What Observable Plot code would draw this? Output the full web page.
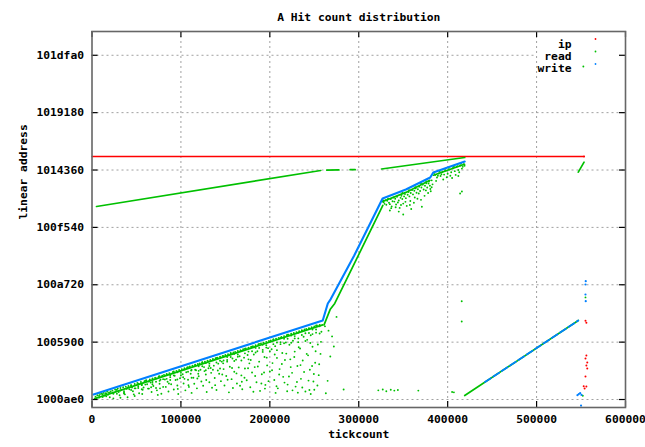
<!DOCTYPE html>
<html><head><meta charset="utf-8">
<script src="https://cdn.jsdelivr.net/npm/d3@7"></script>
<script src="https://cdn.jsdelivr.net/npm/@observablehq/plot@0.6"></script>
<style>body{margin:0;background:#fff}</style>
</head><body><div id="chart"></div>
<script>
const title = "A Hit count distribution";
const xLabel = "tickcount";
const yLabel = "linear address";
const seriesNames = ["ip", "read", "write"];
const seriesColors = ["#ff0000", "#00c000", "#0080ff"];
const xTicks = [0, 100000, 200000, 300000, 400000, 500000, 600000];
const xTickLabels = ["0", "100000", "200000", "300000", "400000", "500000", "600000"];
const yTicks = [16780000, 16800000, 16820000, 16840000, 16860000, 16880000, 16900000];
const yTickLabels = ["1000ae0", "1005900", "100a720", "100f540", "1014360", "1019180", "101dfa0"];
const xDomain = [0, 600000];
const yDomain = [16777216, 16908288];

// ip (red)
const ipSegments = [[[0, 16864715], [553400, 16864715]]];
const ipPoints = [[553400, 16864715], [555000, 16807500], [556000, 16806800], [556000, 16795300], [555000, 16794300],
  [557000, 16792900], [556000, 16791900], [557000, 16790800], [555000, 16788000], [556000, 16784500],
  [554000, 16783800], [553000, 16784600]];

// read (green)
const readSegments = [
  [[5100, 16847285], [257200, 16859834]],
  [[264000, 16859974], [277700, 16860043]],
  [[290300, 16860113], [296000, 16860113]],
  [[325600, 16860357], [419200, 16864366]],
  [[3000, 16780300], [259500, 16806000]],
  [[261000, 16806000], [268000, 16811500], [273000, 16813500], [297900, 16829200], [327100, 16847633]],
  [[327000, 16849000], [353000, 16852200], [380000, 16856400]],
  [[384000, 16858200], [419000, 16862000]],
  [[419200, 16781399], [546900, 16807544]],
  [[546900, 16859242], [553400, 16862728]]
];
const readPoints = [
  [6000,16781500],[9000,16781900],[11000,16782000],[13000,16782300],[15000,16782200],[17000,16782700],[19000,16782500],[14000,16781400],[18000,16781700],
  [21000,16782800],[23000,16783100],[24000,16782300],[26000,16783500],[27000,16782900],[29000,16783800],[30000,16782600],[32000,16784000],[33000,16783300],[35000,16784300],[36000,16782400],[38000,16784500],[39000,16783700],[37000,16781800],[31000,16781500],
  [41000,16784700],[42000,16783600],[44000,16785000],[45000,16784200],[46000,16782900],[48000,16785400],[49000,16783900],[51000,16785800],[52000,16784600],[53000,16782200],[55000,16786100],[56000,16785000],[57000,16783400],[59000,16786400],[58000,16784200],[47000,16781800],
  [61000,16786700],[62000,16785300],[63000,16783800],[65000,16787000],[66000,16785900],[67000,16782600],[68000,16787300],[69000,16784700],[71000,16787600],[72000,16786200],[73000,16783200],[75000,16788000],[76000,16785500],[77000,16786900],[78000,16782000],[79000,16788300],[74000,16781600],
  [81000,16788600],[82000,16787000],[83000,16784400],[84000,16788900],[85000,16786200],[86000,16782800],[87000,16789200],[88000,16787800],[89000,16785300],[91000,16789600],[92000,16783500],[93000,16788300],[94000,16786800],[95000,16790000],[96000,16784900],[97000,16781900],[98000,16790300],[99000,16787400],
  [101000,16790600],[102000,16788800],[103000,16785600],[104000,16790900],[105000,16783200],[106000,16789500],[107000,16791200],[108000,16786900],[109000,16784400],[110000,16791500],[111000,16789000],[112000,16782300],[113000,16791800],[114000,16787600],[115000,16785500],[116000,16792100],[117000,16790200],[118000,16783900],[119000,16792400],[120000,16788100],
  [121000,16792600],[122000,16790400],[123000,16786300],[124000,16792900],[125000,16784800],[126000,16791300],[127000,16793200],[128000,16788700],[129000,16782600],[130000,16793500],[131000,16790900],[132000,16786000],[133000,16793800],[134000,16789300],[135000,16784100],[136000,16794100],[137000,16791800],[138000,16787500],[139000,16794400],[140000,16783300],
  [141000,16794600],[142000,16792500],[143000,16789000],[144000,16794900],[145000,16786400],[146000,16793200],[147000,16795200],[148000,16790600],[149000,16784900],[150000,16795500],[151000,16788200],[152000,16793800],[153000,16795800],[154000,16782500],[155000,16791400],[156000,16796100],[157000,16787100],[158000,16794300],[159000,16796400],[160000,16789700],
  [161000,16796600],[162000,16793900],[163000,16785600],[164000,16796900],[165000,16791200],[166000,16795100],[167000,16797200],[168000,16788400],[169000,16783600],[170000,16797500],[171000,16794600],[172000,16790800],[173000,16797800],[174000,16786700],[175000,16795500],[176000,16798100],[177000,16792600],[178000,16784300],[179000,16798400],[180000,16789400],
  [181000,16798600],[182000,16795700],[183000,16791300],[184000,16798900],[185000,16786000],[186000,16796800],[187000,16799200],[188000,16793200],[189000,16783000],[190000,16799500],[191000,16788800],[192000,16797300],[193000,16799800],[194000,16794800],[195000,16785100],[196000,16800100],[197000,16791900],[198000,16797900],[199000,16800400],[200000,16789800],
  [201000,16800600],[202000,16797500],[203000,16792700],[204000,16800900],[205000,16786800],[206000,16798600],[207000,16801200],[208000,16794500],[209000,16783900],[210000,16801500],[211000,16790600],[212000,16799300],[213000,16801800],[214000,16796200],[215000,16787900],[216000,16802100],[217000,16793800],[218000,16799900],[219000,16802400],[220000,16785200],
  [221000,16802600],[222000,16799100],[223000,16794000],[224000,16802900],[225000,16789300],[226000,16800500],[227000,16803200],[228000,16796700],[229000,16784500],[230000,16803500],[231000,16791700],[232000,16801300],[233000,16803800],[234000,16797800],[235000,16787200],[236000,16804100],[237000,16793600],[238000,16801900],[239000,16804400],[240000,16782800],
  [241000,16804600],[242000,16800800],[243000,16795400],[244000,16804900],[245000,16790400],[246000,16802400],[247000,16805200],[248000,16798400],[249000,16786300],[250000,16805500],[251000,16792800],[252000,16803300],[253000,16805800],[254000,16799200],[255000,16788500],[256000,16806000],[257000,16795900],[258000,16803600],[250000,16783400],[246000,16781900],
  [4000,16781000],[4000,16780200],[8000,16781400],[8000,16780700],[12000,16781800],[12000,16780900],[16000,16782000],[16000,16781100],
  [20000,16782300],[20000,16780800],[24000,16782000],[24000,16780400],[28000,16783400],[28000,16782000],[32000,16783100],[32000,16780600],
  [36000,16782900],[36000,16782100],[40000,16784100],[40000,16780800],[44000,16784900],[44000,16783300],[48000,16783900],[48000,16781200],
  [52000,16785500],[52000,16784000],[56000,16785200],[56000,16783600],[60000,16786600],[60000,16785200],[64000,16786300],[64000,16783800],
  [68000,16786100],[68000,16785300],[72000,16787300],[72000,16784000],[76000,16788100],[76000,16786500],[80000,16787100],[80000,16784400],
  [84000,16788700],[84000,16787200],[88000,16788400],[88000,16786800],[92000,16789800],[92000,16788400],[96000,16789500],[96000,16787000],
  [100000,16789300],[100000,16788500],[104000,16790500],[104000,16787200],[108000,16791300],[108000,16789700],[112000,16790300],[112000,16787600],
  [116000,16791900],[116000,16790400],[120000,16791600],[120000,16790000],[124000,16793000],[124000,16791600],[128000,16792700],[128000,16790200],
  [132000,16792500],[132000,16791700],[136000,16793700],[136000,16790400],[140000,16794500],[140000,16792900],[144000,16793500],[144000,16790800],
  [148000,16795100],[148000,16793600],[152000,16794800],[152000,16793200],[156000,16796200],[156000,16794800],[160000,16795900],[160000,16793400],
  [164000,16795700],[164000,16794900],[168000,16796900],[168000,16793600],[172000,16797700],[172000,16796100],[176000,16796700],[176000,16794000],
  [180000,16798300],[180000,16796800],[184000,16798000],[184000,16796400],[188000,16799400],[188000,16798000],[192000,16799100],[192000,16796600],
  [196000,16798900],[196000,16798100],[200000,16800100],[200000,16796800],[204000,16800900],[204000,16799300],[208000,16799900],[208000,16797200],
  [212000,16801500],[212000,16800000],[216000,16801200],[216000,16799600],[220000,16802600],[220000,16801200],[224000,16802300],[224000,16799800],
  [228000,16802100],[228000,16801300],[232000,16803300],[232000,16800000],[236000,16804100],[236000,16802500],[240000,16803100],[240000,16800400],
  [244000,16804700],[244000,16803200],[248000,16804400],[248000,16802800],[252000,16805800],[252000,16804400],[256000,16805500],[256000,16803000],
  [152500,16786900],[157500,16791000],[162500,16789100],[166500,16784800],[171500,16787600],[175500,16790900],[178500,16793800],[183500,16788200],
  [186500,16791500],[190500,16785600],[193500,16789400],[196500,16794600],[198500,16786400],[202500,16790200],[205500,16795700],[207500,16784600],
  [210500,16788700],[213500,16792400],[216500,16785900],[218500,16796000],[221500,16788000],[223500,16791300],[225500,16783200],[227500,16794800],
  [230500,16786100],[232500,16798200],[234500,16792000],[236500,16784200],[238500,16789600],[241500,16795900],[243500,16786600],[245500,16799700],
  [247500,16791700],[249500,16788900],[251500,16796800],[253500,16784900],[255500,16792300],[257500,16800100],[244500,16783300],[231500,16782400],
  [219500,16782900],[206500,16782300],[194500,16783800],[181500,16782700],[168500,16786200],[158500,16784000],[146500,16788700],[138500,16785000],
  [128500,16786800],[118500,16787300],[108500,16785000],[96500,16783700],[86500,16785600],[76500,16783900],[66500,16784300],[56500,16781900],
  [102500,16787800],[111500,16790100],[119500,16789000],[126500,16789900],[133500,16791000],[141500,16790100],[147500,16792600],
  [262000,16805500],[266000,16804000],[270000,16802000],[268000,16795000],[272000,16798500],[265000,16786500],[263000,16782200],[275000,16808800],
  [328000,16848800],[330000,16849500],[331000,16847900],[333000,16850000],[334000,16848600],[336000,16849900],[337000,16847300],[339000,16850400],[340000,16849000],[342000,16848000],[343000,16850700],[345000,16849400],[346000,16846800],[348000,16851000],[349000,16849900],[350000,16848300],[352000,16851600],[353000,16850200],[354000,16847500],[356000,16852300],[357000,16850800],[358000,16849200],[360000,16853000],[361000,16851500],[362000,16848600],[364000,16853600],[365000,16852100],[366000,16850000],[368000,16854200],[369000,16852700],[370000,16849600],[372000,16854900],[373000,16853200],[374000,16851000],[376000,16855400],[377000,16853900],[378000,16852000],[379000,16856000],[380000,16854500],[381000,16852600],[382000,16856400],[383000,16855000],[335000,16845900],[345000,16845500],[359000,16846400],[371000,16847200],
  [327500,16849400],[329000,16848200],[332000,16849300],[335000,16848100],[338000,16849100],[341000,16850000],[344000,16848700],[347000,16850300],[351000,16850800],[355000,16851400],[358500,16852000],[362500,16852800],[366500,16853300],[370500,16853900],[374500,16854500],[378500,16855300],[382000,16854000],[336500,16846700],[341500,16847000],[347500,16847800],[352500,16848900],[357500,16847800],[363000,16850400],[367500,16851800],[375500,16852900],[380500,16853400],[349000,16852000],[363500,16854000],[356500,16853000],[370000,16855300],[376000,16856000],
  [386000,16858300],[388000,16857400],[390000,16858800],[392000,16857900],[394000,16859300],[396000,16858400],[398000,16859800],[400000,16858700],[402000,16860200],[404000,16859200],[406000,16860700],[408000,16859600],[410000,16861100],[412000,16860000],[414000,16861600],[416000,16860500],[418000,16862000],[395000,16856700],[405000,16857200],[412000,16857900],[387000,16856200],
  [385000,16859000],[389000,16858000],[391000,16859500],[393000,16858500],[397000,16860000],[399000,16857500],[401000,16860800],[403000,16858000],[407000,16861300],[409000,16858300],[411000,16861800],[413000,16859200],[415000,16862200],[417000,16861100],[419000,16861500],
  [414000,16851800],[416000,16852500],[350000,16844500],
  [283000,16783500],[322000,16783200],[327000,16783500],[331000,16782900],[336000,16783400],[340000,16783100],[344000,16783300],[367000,16783100],[405000,16782600],[407000,16782500],
  [415800,16814272],[415800,16807196],[555000,16815600],[552000,16781300],[552600,16896089]
];

// write (blue)
const writeSegments = [
  [[1700, 16781748], [259500, 16807544], [265200, 16813470], [268500, 16815000], [294900, 16830200], [326800, 16850073],
   [353000, 16853211], [380400, 16857394], [383800, 16859137], [419200, 16862972]]
];
const writeDashedSegments = [[[442000, 16786070], [546900, 16807544]]];
const writePoints = [[555300, 16821244], [555000, 16820094], [555000, 16816608], [555300, 16814272],
  [546000, 16781500], [547500, 16781900], [549000, 16782200], [550500, 16781600], [550000, 16777900]];

const flat = segs => segs.flatMap((s, i) => s.map(([x, y]) => ({x, y, seg: i})));
const pts = arr => arr.map(([x, y]) => ({x, y}));

const W = 645, H = 447, mL = 91.5, mR = 20, mT = 31, mB = 40;
const plotW = W - mL - mR, plotH = H - mT - mB;
const font = "'DejaVu Sans Mono', 'Liberation Mono', monospace";

const legendMarks = seriesNames.flatMap((name, i) => [
  Plot.text([name], {frameAnchor: "top-right", text: d => d, textAnchor: "end", dx: -54, dy: 8 + 12 * i, fill: "#000"}),
  Plot.dot([0], {frameAnchor: "top-right", dx: -30, dy: 7.5 + 12.5 * i, r: 0.9, fill: seriesColors[i], stroke: "none"})
]);

const chart = Plot.plot({
  width: W, height: H,
  marginLeft: mL, marginRight: mR, marginTop: mT, marginBottom: mB,
  style: {fontFamily: font, fontSize: "11.3px", fontWeight: "bold", background: "#fff", color: "#000"},
  x: {domain: xDomain, axis: null},
  y: {domain: yDomain, axis: null},
  marks: [
    // grid
    Plot.ruleX(xTicks.slice(1, -1), {stroke: "#a0a0a0", strokeDasharray: "2,3", strokeWidth: 1}),
    Plot.ruleY(yTicks.slice(0, -1), {stroke: "#a0a0a0", strokeDasharray: "2,3", strokeWidth: 1}),
    Plot.ruleY(yTicks.slice(-1), {stroke: "#a0a0a0", strokeDasharray: "2,3", strokeWidth: 1, insetRight: 89}),
    // ip
    Plot.line(flat(ipSegments), {x: "x", y: "y", z: "seg", stroke: seriesColors[0], strokeWidth: 1.3}),
    Plot.dot(pts(ipPoints), {x: "x", y: "y", r: 1, fill: seriesColors[0], stroke: "none"}),
    // read
    Plot.line(flat(readSegments), {x: "x", y: "y", z: "seg", stroke: seriesColors[1], strokeWidth: 1.7}),
    Plot.dot(pts(readPoints), {x: "x", y: "y", r: 0.95, fill: seriesColors[1], stroke: "none"}),
    // write
    Plot.line(flat(writeSegments), {x: "x", y: "y", z: "seg", stroke: seriesColors[2], strokeWidth: 2.1}),
    Plot.line(flat(writeDashedSegments), {x: "x", y: "y", z: "seg", stroke: seriesColors[2], strokeWidth: 1.8, strokeDasharray: "7,3"}),
    Plot.dot(pts(writePoints), {x: "x", y: "y", r: 1.1, fill: seriesColors[2], stroke: "none"}),
    // ticks (inward, mirrored)
    Plot.ruleY(yTicks, {stroke: "#000", strokeWidth: 1.2, insetRight: plotW - 6}),
    Plot.ruleY(yTicks, {stroke: "#000", strokeWidth: 1.2, insetLeft: plotW - 6}),
    Plot.ruleX(xTicks, {stroke: "#000", strokeWidth: 1.2, insetTop: plotH - 6}),
    Plot.ruleX(xTicks, {stroke: "#000", strokeWidth: 1.2, insetBottom: plotH - 6}),
    Plot.frame({stroke: "#666", strokeWidth: 1.6}),
    // tick labels
    Plot.axisX(xTicks, {anchor: "bottom", tickSize: 0, tickPadding: 7, tickFormat: d => xTickLabels[xTicks.indexOf(d)], label: null, fill: "#000"}),
    Plot.axisY(yTicks, {anchor: "left", tickSize: 0, tickPadding: 8, tickFormat: d => yTickLabels[yTicks.indexOf(d)], label: null, fill: "#000"}),
    // titles
    Plot.text([title], {frameAnchor: "top", text: d => d, dy: -19, fill: "#000"}),
    Plot.text([xLabel], {frameAnchor: "bottom", text: d => d, dy: 30, fill: "#000"}),
    Plot.text([yLabel], {frameAnchor: "left", text: d => d, dx: -69, rotate: -90, fill: "#000"}),
    ...legendMarks
  ]
});
document.getElementById("chart").appendChild(chart);
</script>
</body></html>
